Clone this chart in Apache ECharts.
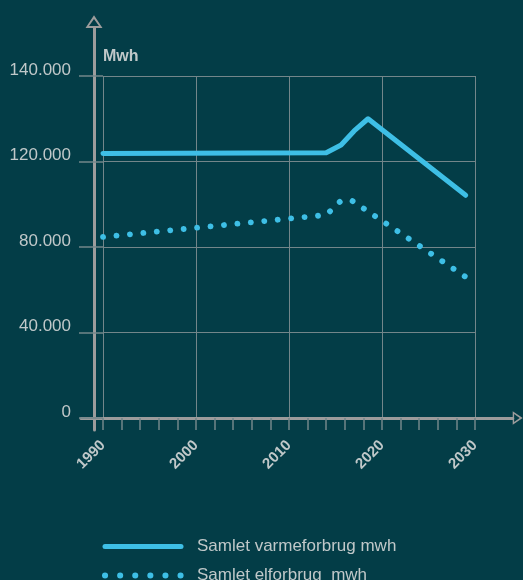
<!DOCTYPE html>
<html><head><meta charset="utf-8">
<script src="https://cdn.jsdelivr.net/npm/echarts@6/dist/echarts.min.js"></script>
<style>html,body{margin:0;padding:0;background:#033d47;} #c{width:523px;height:580px;}</style>
</head><body><div id="c"></div>
<script>
// ---- data ----
const varmeYears  = [1990, 2014, 2015.6, 2017, 2018.5, 2029];
const varmeValues = [123700, 124100, 127700, 134300, 140000, 104200];
const elYears  = [1990, 2014, 2015.6, 2016.8, 2029];
const elValues = [84700, 95000, 101700, 101600, 66000];
const yTickLabels = ['0', '40.000', '80.000', '120.000', '140.000'];
const seriesNames = ['Samlet varmeforbrug mwh', 'Samlet elforbrug  mwh'];
const yName = 'Mwh';

const BLUE = '#3ebfe6';
const AXIS = '#9c9c9c';
const GRIDC = '#73868a';
const TXT = '#c0c8c9';
const ARROW = 'path://M8,0 L16,12 L0,12 Z M8,3.6 L3.3,10.3 L12.7,10.3 Z';

const pairs = (xs, ys) => xs.map((x, i) => [x, ys[i]]);
const hiddenSymbol = {color: 'rgba(0,0,0,0)', borderWidth: 0, opacity: 0};

const chart = echarts.init(document.getElementById('c'), null, {renderer: 'canvas'});
chart.setOption({
  backgroundColor: '#033d47',
  animation: false,
  grid: [
    {left: 103, right: 48, top: 76, bottom: 162, outerBoundsMode: 'none', containLabel: false},
    {left: 81, right: 10.3, top: 28, bottom: 150, outerBoundsMode: 'none', containLabel: false}
  ],
  xAxis: [
    {
      type: 'value', gridIndex: 0, min: 1990, max: 2030, interval: 10,
      axisLine: {show: false},
      axisTick: {show: true, length: 12, lineStyle: {color: GRIDC, width: 1.5}},
      minorTick: {show: true, splitNumber: 5, length: 12, lineStyle: {color: GRIDC, width: 1.5}},
      splitLine: {show: true, lineStyle: {color: GRIDC, width: 1}},
      minorSplitLine: {show: false},
      axisLabel: {
        rotate: 45, margin: 25, fontSize: 15, fontWeight: 'bold',
        fontFamily: 'Liberation Sans', color: TXT, showMinLabel: true, showMaxLabel: true,
        formatter: v => String(v)
      }
    },
    {
      type: 'value', gridIndex: 1, min: -13, max: 418.7,
      axisLine: {show: true, onZero: true, lineStyle: {color: AXIS, width: 3},
        symbol: ['none', ARROW], symbolSize: [15, 10], symbolOffset: [0, 5]},
      axisTick: {show: false}, axisLabel: {show: false}, splitLine: {show: false}
    }
  ],
  yAxis: [
    {
      type: 'value', gridIndex: 0, min: 0, max: 160000, interval: 40000,
      name: yName, nameLocation: 'end', nameGap: 19.5, nameMoveOverlap: false,
      nameTextStyle: {align: 'left', verticalAlign: 'middle', fontSize: 16, fontWeight: 'bold',
        fontFamily: 'Liberation Sans', color: TXT},
      axisLine: {show: false},
      axisTick: {show: true, length: 24, lineStyle: {color: GRIDC, width: 1.5}},
      splitLine: {show: true, lineStyle: {color: GRIDC, width: 1}},
      axisLabel: {
        margin: 32, fontSize: 17, fontFamily: 'Liberation Sans', color: TXT,
        verticalAlign: 'bottom', lineHeight: 12, showMinLabel: true, showMaxLabel: true,
        formatter: v => yTickLabels[Math.round(v / 40000)]
      }
    },
    {
      type: 'value', gridIndex: 1, min: -12, max: 390,
      axisLine: {show: true, onZero: true, lineStyle: {color: AXIS, width: 3},
        symbol: ['none', ARROW], symbolSize: [17, 13], symbolOffset: [0, 6.5]},
      axisTick: {show: false}, axisLabel: {show: false}, splitLine: {show: false}
    }
  ],
  legend: {
    show: true, orient: 'vertical', left: 102, top: 538, height: 80, padding: 0,
    itemWidth: 76, itemHeight: 14, itemGap: 12,
    textStyle: {fontSize: 17, fontFamily: 'Liberation Sans', color: TXT, padding: [0, 0, 0, 11]},
    data: [
      {name: seriesNames[0], itemStyle: hiddenSymbol, lineStyle: {width: 5, cap: 'round', type: 'solid'}},
      {name: seriesNames[1], itemStyle: hiddenSymbol, lineStyle: {width: 6, cap: 'round', type: [0.1, 15]}}
    ]
  },
  series: [
    {
      name: seriesNames[0], type: 'line', xAxisIndex: 0, yAxisIndex: 0,
      data: pairs(varmeYears, varmeValues), symbol: 'none', showSymbol: false,
      lineStyle: {color: BLUE, width: 5, cap: 'round', join: 'round'},
      itemStyle: {color: BLUE}
    },
    {
      name: seriesNames[1], type: 'line', xAxisIndex: 0, yAxisIndex: 0,
      data: pairs(elYears, elValues), symbol: 'none', showSymbol: false,
      lineStyle: {color: BLUE, width: 5.8, cap: 'round', join: 'round', type: [0.1, 13.4]},
      itemStyle: {color: BLUE}
    }
  ]
});
</script></body></html>
